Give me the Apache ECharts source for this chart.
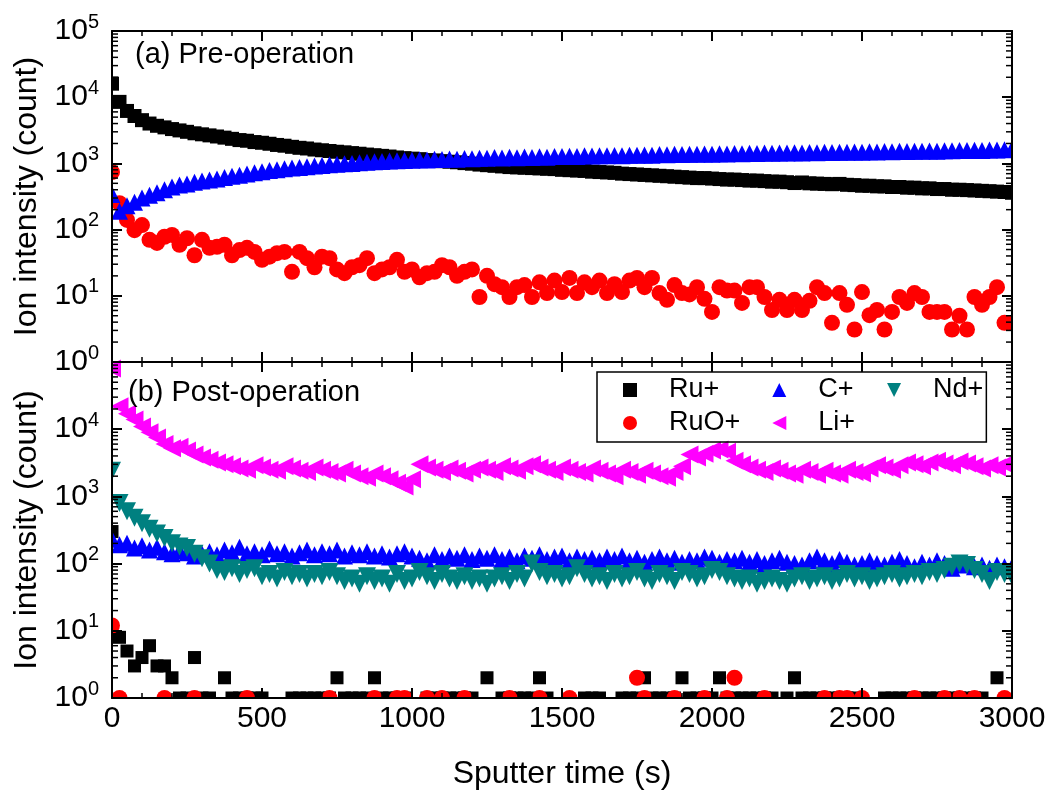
<!DOCTYPE html>
<html>
<head>
<meta charset="utf-8">
<title>Ion intensity vs sputter time</title>
<script src="https://cdn.jsdelivr.net/npm/echarts@6/dist/echarts.min.js"></script>
<style>
html, body { margin: 0; padding: 0; background: #fff; }
#chart { width: 1052px; height: 798px; }
</style>
</head>
<body>
<div id="chart"></div>
<script>
// sputter time of every reading (s), one reading every 25 s
var times = [];
for (var t = 0; t <= 3000; t += 25) times.push(t);

// (a) pre-operation
var preRu = [
	16000, 8500, 6200, 5200, 4500, 4000, 3700, 3500, 3300, 3150,
	3000, 2850, 2750, 2650, 2550, 2450, 2350, 2250, 2200, 2100,
	2050, 1980, 1900, 1850, 1780, 1720, 1680, 1620, 1580, 1540,
	1500, 1470, 1430, 1400, 1360, 1330, 1300, 1270, 1230, 1200,
	1180, 1160, 1120, 1110, 1080, 1060, 1040, 1010, 990, 960,
	940, 920, 900, 880, 870, 860, 850, 840, 830, 820,
	800, 790, 780, 770, 750, 740, 730, 720, 700, 690,
	680, 670, 660, 650, 640, 630, 620, 610, 600, 600,
	590, 580, 570, 570, 560, 550, 550, 540, 530, 530,
	520, 505, 515, 500, 495, 490, 485, 490, 475, 470,
	460, 460, 450, 450, 440, 440, 430, 430, 420, 420,
	410, 410, 400, 400, 395, 390, 385, 380, 375, 370,
	360
];
var preRuO = [
	740, 250, 140, 98, 117, 70, 63, 78, 83, 59,
	74, 41, 70, 53, 55, 59, 41, 49, 53, 46,
	35, 39, 44, 46, 23, 46, 37, 27, 39, 37,
	25, 22, 27, 29, 37, 22, 25, 27, 35, 23,
	25, 19, 22, 23, 29, 27, 20, 23, 25, 9.6,
	20, 15, 13.5, 9.6, 13.5, 14.5, 9.6, 16, 11, 17,
	11.4, 18.6, 11, 16, 13.5, 17, 11, 15, 11.4, 17,
	18.6, 13.5, 18.6, 11, 8.7, 14.5, 11, 10.5, 13.5, 9,
	5.7, 13.5, 12, 12, 7.8, 13.5, 13.5, 9.6, 6.1, 8.7,
	6.1, 8.7, 6.1, 8.4, 13.5, 11, 3.9, 11, 7.3, 3.1,
	11.4, 5.1, 6.1, 3.1, 5.7, 9.6, 7.8, 11, 9.6, 5.7,
	5.7, 5.7, 3.1, 5, 3.1, 9.6, 7.3, 9.6, 13.5, 3.9,
	3.9
];
var preC = [
	340, 190, 230, 260, 300, 330, 360, 400, 440, 470,
	490, 520, 540, 560, 580, 610, 640, 660, 690, 720,
	750, 780, 800, 830, 850, 870, 890, 910, 930, 950,
	970, 990, 1000, 1020, 1040, 1060, 1070, 1090, 1100, 1110,
	1120, 1140, 1130, 1160, 1150, 1170, 1160, 1190, 1180, 1200,
	1200, 1230, 1210, 1240, 1220, 1250, 1230, 1260, 1240, 1270,
	1270, 1280, 1270, 1300, 1290, 1310, 1300, 1320, 1310, 1330,
	1330, 1340, 1330, 1360, 1350, 1370, 1360, 1380, 1370, 1390,
	1380, 1400, 1390, 1410, 1400, 1420, 1410, 1430, 1420, 1440,
	1430, 1450, 1440, 1460, 1450, 1470, 1460, 1480, 1470, 1490,
	1480, 1500, 1490, 1510, 1500, 1520, 1510, 1530, 1520, 1540,
	1530, 1550, 1550, 1570, 1560, 1580, 1570, 1600, 1590, 1610,
	1650
];

// (b) post-operation
var postRu = [
	300, 8, 5, 3, 4, 6, 3, 3, 2, 1,
	1, 4, 1, 1, null, 2, 1, 1, 1, 1,
	1, null, null, null, 1, 1, 1, 1, 1, 1,
	2, 1, 1, 1, 1, 2, 1, 1, 1, 1,
	null, null, 1, 1, 1, 1, 1, 1, 1, null,
	2, null, 1, 1, 1, 1, 1, 2, 1, null,
	null, null, null, 1, 1, 1, null, null, 1, 1,
	1, 2, 1, 1, 1, 1, 2, 1, 1, 1,
	1, 2, 1, 1, 1, 1, 1, 1, 1, null,
	1, 2, 1, 1, 1, 1, 1, 1, 1, 1,
	null, null, null, 1, 1, 1, 1, 1, 1, 1,
	1, 1, 1, 1, 1, 1, 1, null, 2, null,
	null
];
// RuO+ after operation is mostly zero, so only the readings that show
var postRuOTimes = [0, 25, 175, 275, 450, 725, 875, 950, 975, 1050,
	1100, 1175, 1325, 1425, 1525, 1750, 1775, 1875, 1975, 2050,
	2075, 2175, 2375, 2425, 2450, 2500, 2675, 2775, 2825, 2875,
	2975];
var postRuOVals = [12, 1, 1, 1, 1, 1, 1, 1, 1, 1,
	1, 1, 1, 1, 1, 2, 1, 1, 1, 1,
	2, 1, 1, 1, 1, 1, 1, 1, 1, 1,
	1];
var postC = [
	230, 190, 200, 170, 185, 160, 175, 150, 140, 155,
	145, 130, 140, 150, 135, 160, 145, 175, 140, 150,
	135, 165, 140, 150, 130, 145, 160, 135, 150, 140,
	160, 130, 145, 135, 150, 130, 140, 125, 140, 150,
	130, 120, 110, 135, 115, 130, 120, 135, 115, 130,
	120, 135, 115, 125, 110, 130, 120, 135, 115, 125,
	130, 110, 125, 115, 120, 110, 125, 115, 130, 110,
	120, 105, 115, 125, 110, 120, 105, 115, 110, 125,
	120, 105, 115, 110, 120, 105, 115, 100, 110, 120,
	105, 100, 95, 110, 125, 110, 100, 115, 105, 95,
	100, 110, 100, 95, 105, 115, 100, 90, 105, 95,
	110, 100, 85, 95, 100, 90, 95, 85, 95, 90,
	90
];
var postLi = [
	80000, 22000, 17000, 14000, 11000, 9000, 7500, 6000, 5200, 5500,
	4800, 4200, 3800, 3500, 3200, 3000, 2800, 2600, 2500, 2900,
	2700, 2500, 2400, 2800, 2600, 2400, 2300, 2700, 2500, 2300,
	2200, 2500, 2200, 2000, 1900, 2200, 2000, 1800, 1600, 1400,
	1800, 3000, 2700, 2500, 2300, 2600, 2400, 2200, 2500, 2700,
	2500, 2300, 2800, 2600, 2400, 2800, 3000, 2700, 2500, 2300,
	2700, 2500, 2300, 2200, 2600, 2400, 2200, 2000, 2500, 2300,
	2100, 2400, 2200, 2000, 1900, 2300, 2800, 4200, 3800, 4300,
	4800, 5000, 4600, 3400, 3000, 2700, 2500, 2300, 2600, 2400,
	2200, 2100, 2500, 2300, 2100, 2400, 2200, 2100, 2500, 2300,
	2200, 2600, 2900, 2700, 2500, 2900, 3200, 3000, 2800, 3200,
	3400, 3100, 2900, 3300, 3100, 2800, 2600, 2900, 2700, 3000,
	3100
];
var postNd = [
	2400, 800, 600, 480, 400, 330, 280, 240, 200, 180,
	170, 140, 120, 100, 80, 75, 85, 70, 80, 85,
	65, 70, 60, 75, 65, 70, 60, 70, 65, 75,
	65, 55, 60, 50, 65, 55, 60, 50, 70, 55,
	60, 75, 65, 55, 70, 60, 55, 65, 55, 60,
	50, 60, 65, 55, 70, 60, 100, 75, 65, 70,
	60, 65, 85, 70, 60, 65, 55, 70, 60, 65,
	75, 60, 55, 70, 65, 55, 75, 70, 60, 65,
	80, 75, 65, 60, 55, 60, 50, 55, 60, 55,
	50, 60, 65, 55, 60, 65, 55, 60, 70, 60,
	65, 55, 60, 65, 70, 60, 65, 70, 65, 75,
	70, 80, 90, 100, 95, 80, 70, 55, 75, 70,
	65
];

var FONT = "'Liberation Sans', Arial, Helvetica, sans-serif";
// 图例里的左三角 / 倒三角
var ICON_LEFT = 'path://M0,5 L10,0 L10,10 Z';
var ICON_DOWN = 'path://M0,0 L10,0 L5,10 Z';

[preRu, preRuO, preC, postRu, postC, postLi, postNd].forEach(function (arr, i) {
	if (arr.length !== times.length) throw new Error('series ' + i + ' has ' + arr.length + ' values');
});

//把数组拼成 [x, y]，空值跳过
function toPairs(vals) {
	var out = [];
	for (var i = 0; i < vals.length; i++) {
		if (vals[i] != null) out.push([times[i], vals[i]]);
	}
	return out;
}
function zipPairs(ts, vs) {
	var out = [];
	for (var i = 0; i < ts.length; i++) out.push([ts[i], vs[i]]);
	return out;
}

function supLabel(v) {
	var e = Math.round(Math.log(v) / Math.LN10);
	return '{b|10}{s|' + e + '}';
}

function xAxisCfg(grid, pos, showLabel, name) {
	return {
		type: 'value', gridIndex: grid, position: pos, z: 10,
		min: 0, max: 3000, interval: 500,
		axisLine: {show: true, onZero: false, lineStyle: {color: '#000', width: 2}},
		axisTick: {show: true, inside: true, length: 10, lineStyle: {color: '#000', width: 2}},
		minorTick: {show: true, splitNumber: 5, length: 5, lineStyle: {color: '#000', width: 1.5}},
		splitLine: {show: false},
		axisLabel: {show: showLabel, color: '#000', fontSize: 30, fontFamily: FONT, margin: 6,
			formatter: function (v) { return String(v); }},
		name: name || '', nameLocation: 'middle', nameGap: 60,
		nameTextStyle: {color: '#000', fontSize: 32, fontFamily: FONT}
	};
}

function yAxisCfg(grid, pos, showLabel, hideMax, name) {
	return {
		type: 'log', logBase: 10, gridIndex: grid, position: pos, z: 10,
		min: 1, max: 100000, splitNumber: 5,
		axisLine: {show: true, onZero: false, lineStyle: {color: '#000', width: 2}},
		axisTick: {show: true, inside: true, length: 10, lineStyle: {color: '#000', width: 2}},
		splitLine: {show: false},
		axisLabel: {
			show: showLabel, showMaxLabel: !hideMax, margin: 13,
			formatter: supLabel,
			rich: {
				b: {fontSize: 30, fontFamily: FONT, color: '#000', lineHeight: 38},
				s: {fontSize: 20, fontFamily: FONT, color: '#000', verticalAlign: 'top'}
			}
		},
		name: name || '', nameLocation: 'middle', nameGap: 68,
		nameTextStyle: {color: '#000', fontSize: 32, fontFamily: FONT}
	};
}

function scatter(name, panel, data, symbol, size, color, rot) {
	return {
		name: name, type: 'scatter',
		xAxisIndex: panel * 2, yAxisIndex: panel * 2,
		data: data, symbol: symbol, symbolSize: size, symbolRotate: rot || 0,
		clip: true,
		itemStyle: {color: color, opacity: 1},
		emphasis: {disabled: true}
	};
}

var chart = echarts.init(document.getElementById('chart'));
var option = {
	animation: false,
	backgroundColor: '#fff',
	textStyle: {fontFamily: FONT},
	grid: [
		{left: 112, width: 900, top: 31, height: 331},
		{left: 112, width: 900, top: 362, height: 336}
	],
	title: [
		{text: '(a) Pre-operation', left: 135, top: 40, padding: 0,
			textStyle: {fontSize: 29, fontWeight: 'normal', color: '#000', fontFamily: FONT}},
		{text: '(b) Post-operation', left: 128, top: 378, padding: 0,
			textStyle: {fontSize: 29, fontWeight: 'normal', color: '#000', fontFamily: FONT}}
	],
	legend: {
		data: [
			{name: 'Ru+'}, {name: 'RuO+'}, {name: 'C+'},
			{name: 'Li+', icon: ICON_LEFT},
			{name: 'Nd+', icon: ICON_DOWN, textStyle: {padding: [0, 0, 0, 27]}}
		],
		orient: 'vertical', left: 597, top: 372, height: 75,
		padding: [4, 3, 5, 26],
		itemWidth: 14, itemHeight: 14, itemGap: 5,
		borderColor: '#000', borderWidth: 1.5,
		selectedMode: false,
		textStyle: {fontSize: 27, color: '#000', fontFamily: FONT, lineHeight: 28, padding: [0, 27, 0, 27]}
	},
	xAxis: [
		xAxisCfg(0, 'bottom', false),
		xAxisCfg(0, 'top', false),
		xAxisCfg(1, 'bottom', true, 'Sputter time (s)'),
		xAxisCfg(1, 'top', false)
	],
	yAxis: [
		yAxisCfg(0, 'left', true, false, 'Ion intensity (count)'),
		yAxisCfg(0, 'right', false, false),
		yAxisCfg(1, 'left', true, true, 'Ion intensity (count)'),
		yAxisCfg(1, 'right', false, false)
	],
	series: [
		scatter('Ru+', 0, toPairs(preRu), 'rect', 14, '#000000'),
		scatter('RuO+', 0, toPairs(preRuO), 'circle', 16, '#ff0000'),
		scatter('C+', 0, toPairs(preC), 'triangle', 17, '#0000ff'),
		scatter('Ru+', 1, toPairs(postRu), 'rect', 13, '#000000'),
		scatter('RuO+', 1, zipPairs(postRuOTimes, postRuOVals), 'circle', 16, '#ff0000'),
		scatter('C+', 1, toPairs(postC), 'triangle', 17, '#0000ff'),
		scatter('Li+', 1, toPairs(postLi), 'triangle', 18, '#ff00ff', 90),
		scatter('Nd+', 1, toPairs(postNd), 'triangle', 18, '#008080', 180)
	]
};
chart.setOption(option);

// 对数轴的次刻度自己画（2..9 x 10^n），左右两边都要；
// 再用白底遮住画框外面露出来的半个符号
function drawExtras() {
	var els = [];
	var W = chart.getWidth(), H = chart.getHeight();
	var xl = chart.convertToPixel({xAxisIndex: 0}, 0);
	var xr = chart.convertToPixel({xAxisIndex: 0}, 3000);
	var yTop = chart.convertToPixel({yAxisIndex: 0}, 100000);
	var yBot = chart.convertToPixel({yAxisIndex: 2}, 1);
	[0, 2].forEach(function (yi) {
		for (var d = 0; d < 5; d++) {
			for (var m = 2; m <= 9; m++) {
				var y = chart.convertToPixel({yAxisIndex: yi}, m * Math.pow(10, d));
				els.push({type: 'line', silent: true, z: 10,
					shape: {x1: xl, y1: y, x2: xl + 6, y2: y},
					style: {stroke: '#000', lineWidth: 1.5}});
				els.push({type: 'line', silent: true, z: 10,
					shape: {x1: xr - 6, y1: y, x2: xr, y2: y},
					style: {stroke: '#000', lineWidth: 1.5}});
			}
		}
	});
	var masks = [
		[0, 0, xl, H],
		[xr, 0, W - xr, H],
		[0, 0, W, yTop],
		[0, yBot, W, H - yBot]
	];
	masks.forEach(function (r) {
		els.push({type: 'rect', silent: true, z: 3,
			shape: {x: r[0], y: r[1], width: r[2], height: r[3]},
			style: {fill: '#fff'}});
	});
	chart.setOption({graphic: els});
}
drawExtras();
</script>
</body>
</html>
